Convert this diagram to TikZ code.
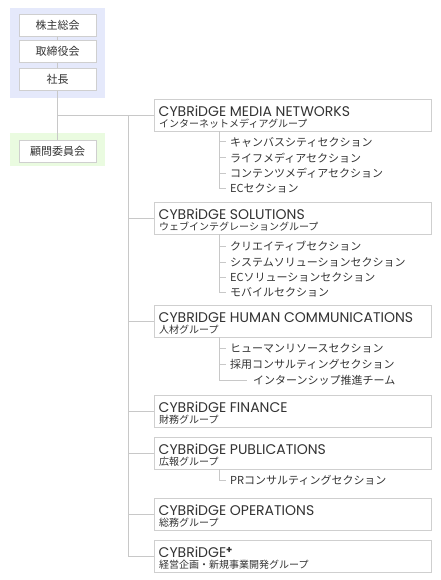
\documentclass[tikz,border=0pt]{standalone}
\usepackage{fontspec}
\setmainfont{Poppins}
\newfontfamily\jp{Noto Sans CJK JP}
\definecolor{bluebg}{HTML}{E5E9FB}
\definecolor{greenbg}{HTML}{EAFBE0}
\definecolor{boxgray}{HTML}{CFCFCF}
\definecolor{linegray}{HTML}{C8C8C8}
\definecolor{inkgray}{HTML}{333333}

\begin{document}
\begin{tikzpicture}[x=1pt,y=-1pt,
    topbox/.style={draw=boxgray, fill=white, minimum width=77pt, minimum height=22pt, inner sep=0pt, text=inkgray, font=\jp\fontsize{11}{13}\selectfont},
    grpbox/.style={draw=boxgray, fill=white, anchor=north west, minimum width=277pt, minimum height=32pt, inner sep=0pt},
    entext/.style={anchor=base west, inner sep=0pt, text height=10pt, text depth=0pt, text=inkgray, font=\fontsize{14}{16}\selectfont},
    jptext/.style={anchor=base west, inner sep=0pt, text height=7.5pt, text depth=0.5pt, text=inkgray, font=\jp\fontsize{10}{12}\selectfont},
    sect/.style={anchor=west, inner sep=0pt, text=inkgray, font=\jp\fontsize{11}{13}\selectfont},
    conn/.style={draw=linegray, line width=1pt}]
  \useasboundingbox (0,0) rectangle (440,580);

  % shaded areas behind the top boxes
  \fill[bluebg] (10,8) rectangle (105,98);
  \fill[greenbg] (10,133) rectangle (105,166);

  % top of the company
  \node[topbox] (soukai) at (57.5,25.5) {株主総会};
  \node[topbox] (torishimari) at (57.5,51.5) {取締役会};
  \node[topbox] (shacho) at (57.5,79.5) {社長};
  \node[topbox] (komon) at (57.5,151) {顧問委員会};
  \draw[conn] (soukai) -- (torishimari);
  \draw[conn] (torishimari) -- (shacho);
  \draw[conn] (shacho) -- (komon);

  % group boxes
  \node[grpbox] (g1) at (154,99) {};
  \node[grpbox] (g2) at (154,202) {};
  \node[grpbox] (g3) at (154,305) {};
  \node[grpbox] (g4) at (154,395) {};
  \node[grpbox] (g5) at (154,437) {};
  \node[grpbox] (g6) at (154,498) {};
  \node[grpbox] (g7) at (154,540) {};

  \node[entext] (g1en) at (158.5,116.5) {CYBRiDGE MEDIA NETWORKS};
  \node[jptext] (g1jp) at (159,127.5) {インターネットメディアグループ};
  \node[entext] (g2en) at (158.5,219.5) {CYBRiDGE SOLUTIONS};
  \node[jptext] (g2jp) at (159,230.5) {ウェブインテグレーショングループ};
  \node[entext] (g3en) at (158.5,322.5) {CYBRIDGE HUMAN COMMUNICATIONS};
  \node[jptext] (g3jp) at (159,333.5) {人材グループ};
  \node[entext] (g4en) at (158.5,412.5) {CYBRiDGE FINANCE};
  \node[jptext] (g4jp) at (159,423.5) {財務グループ};
  \node[entext] (g5en) at (158.5,454.5) {CYBRiDGE PUBLICATIONS};
  \node[jptext] (g5jp) at (159,465.5) {広報グループ};
  \node[entext] (g6en) at (158.5,515.5) {CYBRiDGE OPERATIONS};
  \node[jptext] (g6jp) at (159,526.5) {総務グループ};
  \node[entext] (g7en) at (158.5,557.5) {CYBRiDGE\raisebox{4pt}{\fontsize{10}{10}\selectfont\bfseries +}};
  \node[jptext] (g7jp) at (159,568.5) {経営企画・新規事業開発グループ};

  % trunk from the president to every group
  \coordinate (spine) at (128,0);
  \draw[conn] (shacho.south |- g1.west) -- (g1.west);
  \draw[conn] (spine |- g1.west) -- (spine |- g7.west);
  \draw[conn] (spine |- g2.west) -- (g2.west);
  \draw[conn] (spine |- g3.west) -- (g3.west);
  \draw[conn] (spine |- g4.west) -- (g4.west);
  \draw[conn] (spine |- g5.west) -- (g5.west);
  \draw[conn] (spine |- g6.west) -- (g6.west);
  \draw[conn] (spine |- g7.west) -- (g7.west);

  % sections
  \coordinate (branch) at (219,0);
  \node[sect] (s11) at (230,142) {キャンバスシティセクション};
  \node[sect] (s12) at (230,158) {ライフメディアセクション};
  \node[sect] (s13) at (230,173) {コンテンツメディアセクション};
  \node[sect] (s14) at (230,188) {ECセクション};
  \draw[conn] (branch |- g1.south) |- ([xshift=-4pt]s14.west);
  \draw[conn] (branch |- s11.west) -- ([xshift=-4pt]s11.west);
  \draw[conn] (branch |- s12.west) -- ([xshift=-4pt]s12.west);
  \draw[conn] (branch |- s13.west) -- ([xshift=-4pt]s13.west);

  \node[sect] (s21) at (230,246) {クリエイティブセクション};
  \node[sect] (s22) at (230,262) {システムソリューションセクション};
  \node[sect] (s23) at (230,277) {ECソリューションセクション};
  \node[sect] (s24) at (230,292) {モバイルセクション};
  \draw[conn] (branch |- g2.south) |- ([xshift=-4pt]s24.west);
  \draw[conn] (branch |- s21.west) -- ([xshift=-4pt]s21.west);
  \draw[conn] (branch |- s22.west) -- ([xshift=-4pt]s22.west);
  \draw[conn] (branch |- s23.west) -- ([xshift=-4pt]s23.west);

  \node[sect] (s31) at (230,348) {ヒューマンリソースセクション};
  \node[sect] (s32) at (230,364) {採用コンサルティングセクション};
  \node[sect] (s33) at (253,380) {インターンシップ推進チーム};
  \draw[conn] (branch |- g3.south) |- ([xshift=-6pt]s33.west);
  \draw[conn] (branch |- s31.west) -- ([xshift=-4pt]s31.west);
  \draw[conn] (branch |- s32.west) -- ([xshift=-4pt]s32.west);

  \node[sect] (s51) at (230,480) {PRコンサルティングセクション};
  \draw[conn] (branch |- g5.south) |- ([xshift=-4pt]s51.west);
\end{tikzpicture}
\end{document}
